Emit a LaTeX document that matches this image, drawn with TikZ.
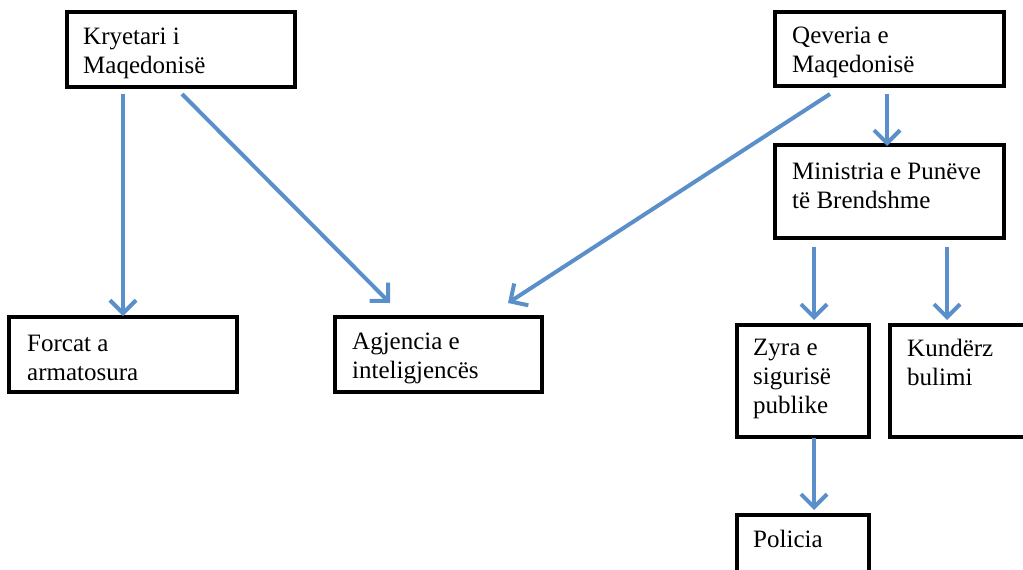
\documentclass[tikz,border=0pt]{standalone}
\usepackage{fontspec}
\setmainfont{Liberation Serif}
\usetikzlibrary{arrows.meta,calc}
\definecolor{arrblue}{HTML}{5B8FC9}
\begin{document}
\begin{tikzpicture}[x=1pt,y=-1pt,
  box/.style={draw=black,line width=3.6pt,anchor=north west,inner sep=0pt,outer sep=0pt},
  txt/.style={anchor=base west,inner sep=0pt,align=left,font=\fontsize{25}{29}\selectfont},
  arr/.style={draw=arrblue,line width=4pt,-{Straight Barb[length=13pt,width=26pt,line width=4pt]}}]
\useasboundingbox (0,0) rectangle (1023,570);
\clip (0,0) rectangle (1023,570);
% boxes
\node[box,minimum width=228pt,minimum height=75pt] (k) at (67,12) {};
\node[box,minimum width=229pt,minimum height=74pt] (q) at (775,12) {};
\node[box,minimum width=229pt,minimum height=93pt] (m) at (775,145) {};
\node[box,minimum width=228pt,minimum height=75pt] (f) at (9,317) {};
\node[box,minimum width=207pt,minimum height=75pt] (a) at (335,317) {};
\node[box,minimum width=132pt,minimum height=112pt] (z) at (737,325) {};
\node[box,minimum width=140pt,minimum height=112pt] (kb) at (890,325) {};
\node[box,minimum width=132pt,minimum height=85pt] (p) at (737,515) {};
% texts (anchor = baseline of the last line)
\node[txt] (kt) at (83,73) {Kryetari i\\Maqedonisë};
\node[txt] (qt) at (792,72) {Qeveria e\\Maqedonisë};
\node[txt] (mt) at (792,208) {Ministria e Punëve\\të Brendshme};
\node[txt] (ft) at (27,380) {Forcat a\\armatosura};
\node[txt] (at) at (352,378) {Agjencia e\\inteligjencës};
\node[txt] (zt) at (753,413) {Zyra e\\sigurisë\\publike};
\node[txt] (kbt) at (907,385) {Kundërz\\bulimi};
\node[txt] (pt) at (753,547) {Policia};
% arrows
\draw[arr] ($(k.south west)+(56,7)$) -- ($(f.north west)+(114,-1)$);
\draw[arr] ($(k.south west)+(115,7)$) -- ($(a.north west)+(55,-14)$);
\draw[arr] ($(q.south west)+(55,8)$) -- ($(a.north west)+(173,-14)$);
\draw[arr] ($(q.south west)+(112,8)$) -- ($(m.north west)+(112,1)$);
\draw[arr] ($(m.south west)+(39,9)$) -- ($(z.north west)+(77,-5)$);
\draw[arr] ($(m.south west)+(172,9)$) -- ($(kb.north west)+(57,-5)$);
\draw[arr] ($(z.south west)+(77,1)$) -- ($(p.north west)+(77,-5)$);
\end{tikzpicture}
\end{document}
